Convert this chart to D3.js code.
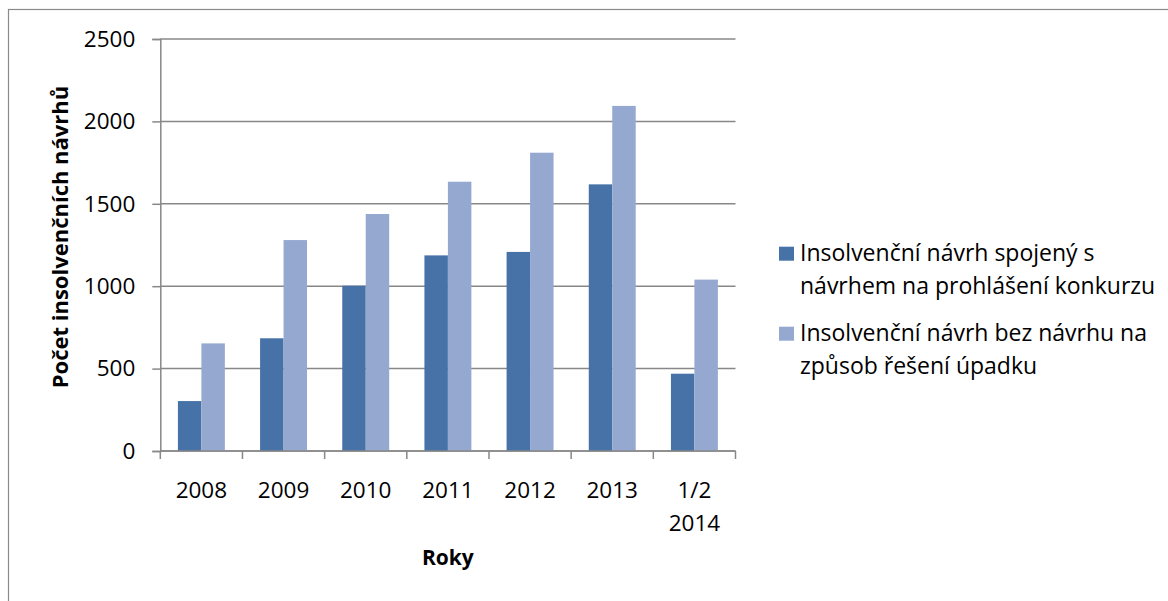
<!DOCTYPE html>
<html>
<head>
<meta charset="utf-8">
<script src="https://cdn.jsdelivr.net/npm/d3@7"></script>
<style>
  html, body { margin: 0; padding: 0; background: #fff; }
  svg { display: block; }
  text { font-family: "Open Sans", "Liberation Sans", sans-serif; fill: #000; }
</style>
</head>
<body>
<svg id="chart" width="1168" height="601"></svg>
<script>
// ---- data ----
const categories = ["2008", "2009", "2010", "2011", "2012", "2013", "1/2 2014"];
const seriesNames = [
  "Insolvenční návrh spojený s návrhem na prohlášení konkurzu",
  "Insolvenční návrh bez návrhu na způsob řešení úpadku"
];
const seriesKonkurz = [303, 684, 1003, 1187, 1208, 1618, 469];
const seriesBezNavrhu = [653, 1280, 1438, 1634, 1810, 2094, 1040];
const yTicks = [0, 500, 1000, 1500, 2000, 2500];
const legendLines = [
  ["Insolvenční návrh spojený s", "návrhem na prohlášení konkurzu"],
  ["Insolvenční návrh bez návrhu na", "způsob řešení úpadku"]
];
const yTitle = "Počet insolvenčních návrhů";
const xTitle = "Roky";

// ---- layout ----
const colors = ["#4672a7", "#95a9d0"];
const gridColor = "#888888";
const plot = { left: 160.3, right: 735.5, top: 39, bottom: 451 };

const svg = d3.select("#chart");

// chart area border (top & left visible)
svg.append("rect")
  .attr("x", 8.5).attr("y", 9.5)
  .attr("width", 1400).attr("height", 800)
  .attr("fill", "none").attr("stroke", "#8a8a8a").attr("stroke-width", 1.2);

const x0 = d3.scaleBand()
  .domain(categories)
  .range([plot.left, plot.right])
  .paddingInner(0.4286)
  .paddingOuter(0.2143);
const x1 = d3.scaleBand()
  .domain([0, 1])
  .range([0, x0.bandwidth()]);
const y = d3.scaleLinear().domain([0, 2500]).range([plot.bottom, plot.top]);

// gridlines
svg.append("g").selectAll("line").data(yTicks).join("line")
  .attr("x1", plot.left).attr("x2", plot.right)
  .attr("y1", d => y(d)).attr("y2", d => y(d))
  .attr("stroke", gridColor).attr("stroke-width", 1.5);

// y axis
const yAxis = svg.append("g")
  .attr("transform", `translate(${plot.left},0)`)
  .call(d3.axisLeft(y).tickValues(yTicks).tickSize(8).tickPadding(17).tickFormat(d3.format("d")));
yAxis.select(".domain").attr("stroke", gridColor).attr("stroke-width", 1.5);
yAxis.selectAll(".tick line").attr("stroke", gridColor).attr("stroke-width", 1.5);
yAxis.selectAll(".tick text")
  .attr("font-family", '"Open Sans", "Liberation Sans", sans-serif')
  .attr("font-size", 22.5).attr("fill", "#000");

// bars
const data = categories.map((c, i) => ({ c, vals: [seriesKonkurz[i], seriesBezNavrhu[i]] }));
const groups = svg.append("g").selectAll("g").data(data).join("g")
  .attr("transform", d => `translate(${x0(d.c)},0)`);
groups.selectAll("rect").data(d => d.vals.map((v, k) => ({ v, k }))).join("rect")
  .attr("x", d => x1(d.k))
  .attr("width", x1.bandwidth())
  .attr("y", d => y(d.v))
  .attr("height", d => y(0) - y(d.v))
  .attr("fill", d => colors[d.k]);

// x axis line + boundary ticks
const step = x0.step();
const bounds = d3.range(categories.length + 1).map(i => plot.left + i * step);
const xg = svg.append("g");
xg.append("line")
  .attr("x1", plot.left).attr("x2", plot.right)
  .attr("y1", y(0)).attr("y2", y(0))
  .attr("stroke", gridColor).attr("stroke-width", 1.5);
xg.selectAll("line.t").data(bounds).join("line").attr("class", "t")
  .attr("x1", d => d).attr("x2", d => d)
  .attr("y1", y(0)).attr("y2", y(0) + 8)
  .attr("stroke", gridColor).attr("stroke-width", 1.5);

// x labels
const xl = xg.selectAll("text.xl").data(categories).join("text").attr("class", "xl")
  .attr("text-anchor", "middle")
  .attr("font-size", 22.5)
  .attr("x", d => x0(d) + x0.bandwidth() / 2)
  .attr("y", 498);
xl.each(function(d) {
  const parts = d.split(" ");
  const t = d3.select(this);
  parts.forEach((p, i) => {
    t.append("tspan").attr("x", x0(d) + x0.bandwidth() / 2).attr("dy", i === 0 ? 0 : 33).text(p);
  });
});

// axis titles
svg.append("text")
  .attr("text-anchor", "middle")
  .attr("font-weight", "bold")
  .attr("font-size", 21)
  .attr("x", (plot.left + plot.right) / 2)
  .attr("y", 565)
  .text(xTitle);

svg.append("text")
  .attr("text-anchor", "middle")
  .attr("font-weight", "bold")
  .attr("font-size", 22)
  .attr("transform", `translate(68,237) rotate(-90)`)
  .text(yTitle);

// legend
const legendTop = [246.7, 326.7];
const lg = svg.append("g").selectAll("g").data(seriesNames).join("g");
lg.append("rect")
  .attr("x", 779).attr("y", (d, i) => legendTop[i])
  .attr("width", 15).attr("height", 14)
  .attr("fill", (d, i) => colors[i]);
lg.each(function(d, i) {
  d3.select(this).selectAll("text").data(legendLines[i]).join("text")
    .attr("x", 800)
    .attr("y", (t, j) => legendTop[i] + 14 + j * 33)
    .attr("font-size", 23)
    .text(t => t);
});
</script>
</body>
</html>
